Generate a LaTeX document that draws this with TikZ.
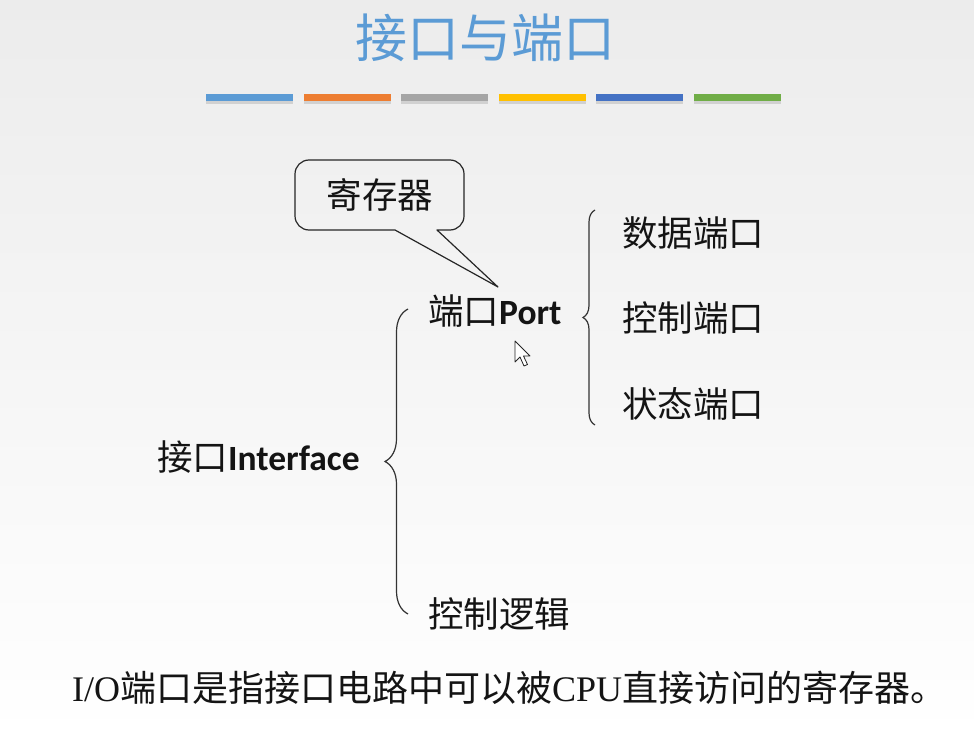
\documentclass[tikz,border=0pt]{standalone}
\usepackage{fontspec}
\setmainfont{Liberation Serif}
\newfontfamily\cjk{Noto Sans CJK SC}
\newfontfamily\lat{Carlito}
\usetikzlibrary{decorations.pathreplacing}
\definecolor{bgtop}{RGB}{236,236,236}
\definecolor{titleblue}{RGB}{91,155,213}
\definecolor{barA}{RGB}{91,155,213}
\definecolor{barB}{RGB}{237,125,49}
\definecolor{barC}{RGB}{165,165,165}
\definecolor{barD}{RGB}{255,192,0}
\definecolor{barE}{RGB}{68,114,196}
\definecolor{barF}{RGB}{112,173,71}
\definecolor{ink}{RGB}{20,20,20}
\begin{document}
\begin{tikzpicture}[x=1pt,y=1pt,
  lbl/.style={inner sep=0pt, anchor=west, text=ink,
    font=\cjk\fontsize{35.5}{40}\selectfont},
  bar/.style={minimum width=87pt, minimum height=7pt, inner sep=0pt},
  bracket/.style={decorate, decoration={brace, amplitude=#1},
    line width=1.2pt, draw=black!80},
  outline/.style={line width=1.2pt, draw=black!85, line join=round}]
\useasboundingbox (0,0) rectangle (974,-738);
% page background
\shade[top color=bgtop, bottom color=white] (0,0) rectangle (974,-738);

% title and colour strip
\node[font=\cjk\fontsize{52}{60}\selectfont, text=titleblue] (title) at (485,-38) {接口与端口};
\foreach \c [count=\i] in {barA,barB,barC,barD,barE,barF} {
  \fill[black, opacity=0.12] (206+97.6*\i-97.6, -96) rectangle ++(87,-8);
  \node[bar, fill=\c] (bar\i) at (249.5+97.6*\i-97.6, -97.5) {};
}

% labels
\node[lbl] (port) at (428,-311) {端口{\lat\bfseries Port}};
\node[lbl] (data) at (622,-233) {数据端口};
\node[lbl] (ctrlp) at (622,-318) {控制端口};
\node[lbl] (stat) at (622,-404) {状态端口};
\node[lbl] (iface) at (157,-457) {接口{\lat\bfseries Interface}};
\node[lbl] (logic) at (428,-614) {控制逻辑};

% callout
\node[lbl, anchor=center] (reg) at (380,-195) {寄存器};
\coordinate (tip) at (498,-287);
\draw[outline] (395,-230) -- (tip) -- (437,-230) -- (450,-230)
  arc[start angle=-90, end angle=0, radius=14] -- (464,-174)
  arc[start angle=0, end angle=90, radius=14] -- (309,-160)
  arc[start angle=90, end angle=180, radius=14] -- (295,-216)
  arc[start angle=180, end angle=270, radius=14] -- cycle;

% braces
\coordinate (lb1) at (408,-614);
\coordinate (lb2) at (408,-309);
\coordinate (rb1) at (595,-425);
\coordinate (rb2) at (595,-210);
\draw[bracket=23] (lb1) -- (lb2);
\draw[bracket=12] (rb1) -- (rb2);

% mouse pointer
\coordinate (cur) at (515,-341);
\draw[fill=white, line width=0.8pt, line join=round, draw=black!85]
  (cur) -- ++(0,-21) -- ++(5,5) -- ++(4,-9) -- ++(3.5,1.5)
  -- ++(-4,8.5) -- ++(6.5,0) -- cycle;

% note
\node[inner sep=0pt, anchor=west, text=ink, font=\fontsize{36}{42}\selectfont] (note)
  at (72,-688) {I/O{\cjk 端口是指接口电路中可以被}CPU{\cjk 直接访问的寄存器。}};
\end{tikzpicture}
\end{document}
